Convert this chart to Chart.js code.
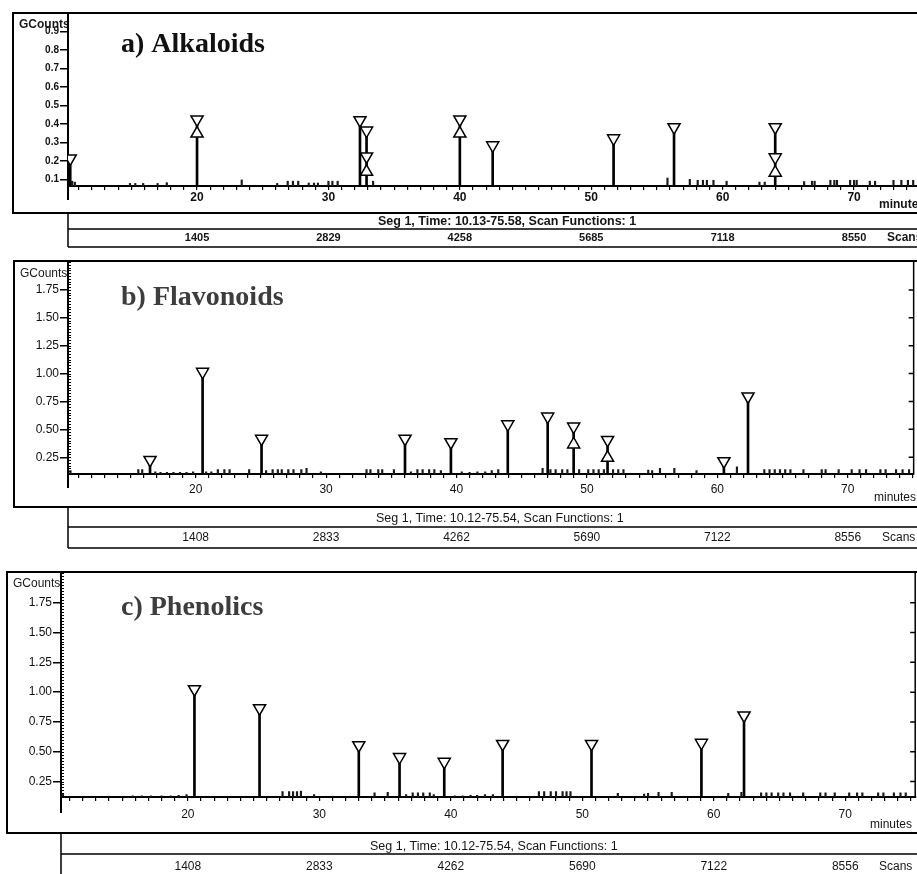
<!DOCTYPE html>
<html>
<head>
<meta charset="utf-8">
<title>GC-MS chromatograms</title>
<script src="https://cdn.jsdelivr.net/npm/chart.js@4.4.1/dist/chart.umd.min.js"></script>
<style>
  html, body { margin: 0; padding: 0; background: #fff; }
  body { width: 917px; height: 874px; position: relative; overflow: hidden; }
  .panel { position: absolute; left: 0; width: 917px; }
  .panel canvas { display: block; }
</style>
</head>
<body>
<div class="panel" style="top:0;height:250px"><canvas id="chartA"></canvas></div>
<div class="panel" style="top:250px;height:310px"><canvas id="chartB"></canvas></div>
<div class="panel" style="top:560px;height:314px"><canvas id="chartC"></canvas></div>
<script>
/* ---------- shared tick labels ---------- */
const MINUTE_LABELS = [20, 30, 40, 50, 60, 70];

/* ---------- a) Alkaloids ---------- */
const alkBase = 0.064;
const alkPeakMin = [10.35, 20.0, 32.4, 32.9, 40.0, 42.5, 51.7, 56.3, 64.0];
const alkPeakTop = [0.213, 0.424, 0.42, 0.364, 0.424, 0.284, 0.322, 0.382, 0.382];
const alkLowDownMin = [32.9, 64.0];
const alkLowDownVal = [0.224, 0.219];
const alkUpMin = [20.0, 32.9, 40.0, 64.0];
const alkUpVal = [0.348, 0.141, 0.348, 0.136];
const alkNoiseMin = [10.5, 10.7, 14.9, 15.3, 15.9, 17.0, 17.7, 23.4, 26.1, 26.9,
  27.3, 27.7, 28.5, 28.9, 29.2, 30.0, 30.3, 30.7, 33.4,
  55.8, 57.5, 58.1, 58.5, 58.8, 59.3, 60.3, 62.8, 63.2, 66.2, 66.8,
  67.0, 68.2, 68.5, 68.7, 69.7, 70.0, 70.2, 71.2, 71.6, 73.0, 73.6, 74.1, 74.5];
const alkNoiseTop = [0.09, 0.085, 0.078, 0.078, 0.078, 0.078, 0.082, 0.097, 0.078, 0.09,
  0.09, 0.09, 0.08, 0.08, 0.08, 0.09, 0.09, 0.09, 0.09,
  0.107, 0.1, 0.095, 0.095, 0.095, 0.095, 0.09, 0.085, 0.085, 0.088, 0.09,
  0.09, 0.095, 0.095, 0.095, 0.095, 0.095, 0.095, 0.09, 0.09, 0.095, 0.095, 0.095, 0.095];
const alkYTicks = [0.1, 0.2, 0.3, 0.4, 0.5, 0.6, 0.7, 0.8, 0.9];
const alkScans = ['1405', '2829', '4258', '5685', '7118', '8550'];

/* ---------- b) Flavonoids ---------- */
const flavBase = 0.1;
const flavPeakMin = [16.5, 20.53, 25.05, 36.05, 39.57, 43.93, 46.99, 48.98, 51.58, 60.5, 62.35];
const flavPeakTop = [0.226, 1.016, 0.416, 0.416, 0.385, 0.545, 0.615, 0.525, 0.405, 0.215, 0.795];
const flavLowDownMin = [];
const flavLowDownVal = [];
const flavUpMin = [48.98, 51.58];
const flavUpVal = [0.365, 0.245];
const flavNoiseMin = [10.4, 15.6, 15.9, 16.9, 17.3, 17.8, 18.3, 18.8, 19.3, 19.8,
  20.8, 21.2, 21.7, 22.2, 22.6, 24.1, 25.4, 25.9, 26.3, 26.6,
  27.1, 27.5, 28.1, 28.5, 29.6, 33.1, 33.4, 34.0, 34.3, 35.2,
  36.5, 37.0, 37.4, 37.9, 38.3, 38.8, 40.4, 41.0, 41.6, 42.2,
  42.7, 43.2, 46.6, 47.2, 47.6, 48.1, 48.5, 49.4, 50.1, 50.5,
  50.9, 51.3, 52.0, 52.4, 52.8, 54.7, 55.0, 55.6, 56.7, 58.4,
  61.5, 63.6, 64.0, 64.4, 64.8, 65.2, 65.6, 66.6, 68.0, 68.3,
  69.3, 70.3, 70.9, 71.4, 72.5, 72.9, 73.7, 74.2, 74.7];
const flavNoiseTop = [0.13, 0.14, 0.14, 0.12, 0.115, 0.115, 0.115, 0.115, 0.115, 0.12,
  0.12, 0.12, 0.14, 0.14, 0.14, 0.14, 0.13, 0.14, 0.14, 0.14,
  0.14, 0.14, 0.14, 0.15, 0.12, 0.14, 0.14, 0.14, 0.14, 0.14,
  0.12, 0.14, 0.14, 0.14, 0.14, 0.13, 0.12, 0.115, 0.12, 0.12,
  0.13, 0.14, 0.15, 0.14, 0.14, 0.14, 0.14, 0.14, 0.14, 0.14,
  0.14, 0.14, 0.14, 0.14, 0.14, 0.135, 0.13, 0.15, 0.15, 0.13,
  0.165, 0.14, 0.14, 0.14, 0.14, 0.14, 0.14, 0.14, 0.14, 0.14,
  0.14, 0.14, 0.14, 0.14, 0.14, 0.14, 0.14, 0.14, 0.14];
const flavYTicks = [0.25, 0.5, 0.75, 1.0, 1.25, 1.5, 1.75];
const flavScans = ['1408', '2833', '4262', '5690', '7122', '8556'];

/* ---------- c) Phenolics ---------- */
const phenBase = 0.12;
const phenPeakMin = [20.5, 25.45, 33.0, 36.1, 39.5, 43.94, 50.7, 59.06, 62.3];
const phenPeakTop = [1.025, 0.865, 0.555, 0.455, 0.415, 0.565, 0.565, 0.575, 0.805];
const phenLowDownMin = [];
const phenLowDownVal = [];
const phenUpMin = [];
const phenUpVal = [];
const phenNoiseMin = [10.5, 15.8, 16.5, 17.2, 18.0, 18.7, 19.3, 19.9, 27.2, 27.7,
  28.0, 28.3, 28.6, 29.6, 34.2, 35.2, 36.6, 37.1, 37.5, 37.9,
  38.4, 38.7, 40.3, 40.9, 41.5, 42.0, 42.6, 43.2, 46.7, 47.1,
  47.6, 48.0, 48.5, 48.8, 49.1, 52.7, 54.7, 55.0, 55.8, 56.8,
  61.1, 62.1, 63.6, 64.0, 64.4, 64.9, 65.3, 65.8, 66.8, 68.1,
  68.5, 69.2, 70.3, 70.9, 71.3, 72.5, 72.9, 73.7, 74.2, 74.6];
const phenNoiseTop = [0.15, 0.13, 0.13, 0.13, 0.13, 0.13, 0.135, 0.14, 0.165, 0.165,
  0.165, 0.165, 0.17, 0.14, 0.155, 0.16, 0.14, 0.155, 0.155, 0.155,
  0.155, 0.14, 0.13, 0.13, 0.135, 0.135, 0.14, 0.14, 0.165, 0.165,
  0.165, 0.165, 0.165, 0.165, 0.165, 0.15, 0.145, 0.15, 0.16, 0.16,
  0.15, 0.16, 0.155, 0.155, 0.155, 0.155, 0.155, 0.155, 0.155, 0.155,
  0.155, 0.155, 0.155, 0.155, 0.155, 0.155, 0.155, 0.155, 0.155, 0.155];
const phenYTicks = [0.25, 0.5, 0.75, 1.0, 1.25, 1.5, 1.75];
const phenScans = ['1408', '2833', '4262', '5690', '7122', '8556'];

/* ---------- helpers ---------- */
const SANS = '"Liberation Sans", Arial, sans-serif';
const SERIF = '"Liberation Serif", "Times New Roman", serif';

function stickPoints(times, tops, base) {
  return times.map((t, i) => ({ x: t, y: [base, tops[i]] }));
}
function markPoints(times, vals) {
  return times.map((t, i) => ({ x: t, y: vals[i] }));
}
function minuteTicks(lo, hi) {
  const out = [];
  for (let m = Math.ceil(lo); m <= Math.floor(hi); m++) out.push(m);
  return out;
}

function makeDecor(d, g) {
  return {
    id: 'decor',
    beforeDraw(chart) {
      // "GCounts" sits under the y axis line and gets cut by it
      const c = chart.ctx, area = chart.chartArea;
      c.save();
      c.beginPath();
      c.rect(0, 0, area.left + 1, area.top + 30);
      c.clip();
      c.fillStyle = '#1a1a1a';
      c.font = (g.bold ? 'bold ' : '') + '12px ' + SANS;
      c.textBaseline = 'middle';
      c.fillText('GCounts', g.gcX, g.gcY);
      c.restore();
    },
    afterDraw(chart) {
      const c = chart.ctx, area = chart.chartArea;
      const xs = chart.scales.x, ys = chart.scales.y;
      const W = chart.width;
      c.save();
      c.strokeStyle = '#000';

      // outer frame (open on the right, cropped)
      c.lineWidth = 2;
      c.beginPath();
      c.moveTo(W, g.frameTop); c.lineTo(g.frameLeft, g.frameTop);
      c.lineTo(g.frameLeft, g.frameBottom); c.lineTo(W, g.frameBottom);
      c.stroke();

      // y axis runs a bit below the baseline
      c.beginPath();
      c.moveTo(area.left, area.bottom); c.lineTo(area.left, area.bottom + g.stub);
      c.stroke();

      // minor y ticks and right axis (b, c)
      if (g.minorStep) {
        c.lineWidth = 1;
        c.beginPath();
        const k0 = Math.ceil(ys.min / g.minorStep), k1 = Math.floor(ys.max / g.minorStep);
        for (let k = k0; k <= k1; k++) {
          const py = Math.round(ys.getPixelForValue(k * g.minorStep)) + 0.5;
          c.moveTo(area.left - 1, py); c.lineTo(area.left + 3, py);
        }
        c.stroke();
        c.lineWidth = 1.5;
        c.beginPath();
        c.moveTo(area.right, area.top); c.lineTo(area.right, area.bottom);
        d.yTicks.forEach(v => {
          const py = ys.getPixelForValue(v);
          c.moveTo(area.right - 5, py); c.lineTo(area.right, py);
        });
        c.stroke();
      }

      // Seg / Scan strip
      c.lineWidth = 1.5;
      c.beginPath();
      c.moveTo(area.left, g.frameBottom); c.lineTo(area.left, g.stripBottom);
      g.stripLines.forEach(yy => { c.moveTo(area.left, yy); c.lineTo(W, yy); });
      c.stroke();

      // title
      c.fillStyle = g.titleColor;
      c.font = 'bold 28px ' + SERIF;
      c.textBaseline = 'alphabetic';
      c.textAlign = 'left';
      c.fillText(d.title, 121, g.titleY);

      // small texts
      const wt = g.bold ? 'bold ' : '';
      c.fillStyle = '#151515';
      c.textBaseline = 'middle';
      c.font = wt + '12.5px ' + SANS;
      c.fillText(d.seg, g.segX, g.segY);
      c.font = wt + '12px ' + SANS;
      c.fillText('minutes', g.minutesX, g.minutesY);
      c.fillText('Scans', g.scansX, g.scanY);
      c.textAlign = 'center';
      c.font = wt + (g.bold ? '11px ' : '12px ') + SANS;
      MINUTE_LABELS.forEach((m, i) => {
        c.fillText(d.scans[i], xs.getPixelForValue(m), g.scanY);
      });
      c.restore();
    }
  };
}

function makeChart(canvasId, d, g) {
  const wt = g.bold ? 'bold' : 'normal';
  const marker = {
    pointStyle: 'triangle', pointRadius: 7, pointHoverRadius: 7,
    pointBackgroundColor: '#fff', pointBorderColor: '#000', pointBorderWidth: 1.5,
    showLine: false, order: 1
  };
  return new Chart(document.getElementById(canvasId), {
    type: 'scatter',
    data: {
      datasets: [
        { type: 'bar', data: stickPoints(d.noiseMin, d.noiseTop, d.base),
          backgroundColor: '#1a1a1a', barThickness: 1.5, grouped: false, order: 3 },
        { type: 'bar', data: stickPoints(d.peakMin, d.peakTop, d.base),
          backgroundColor: '#000', barThickness: 2, grouped: false, order: 2 },
        Object.assign({ data: markPoints(d.peakMin.concat(d.lowDownMin), d.peakTop.concat(d.lowDownVal)),
          pointRotation: 180 }, marker),
        Object.assign({ data: markPoints(d.upMin, d.upVal), pointRotation: 0 }, marker)
      ]
    },
    options: {
      responsive: true,
      maintainAspectRatio: false,
      animation: false,
      events: [],
      layout: { autoPadding: false, padding: { left: 0, top: g.top, right: g.padRight, bottom: 0 } },
      plugins: { legend: { display: false }, tooltip: { enabled: false } },
      scales: {
        x: {
          type: 'linear', min: g.xMin, max: g.xMax, offset: false,
          grid: { offset: false, drawOnChartArea: false, drawTicks: true, tickLength: 4, color: '#000', lineWidth: 1.2 },
          border: { color: '#000', width: 2 },
          afterBuildTicks: s => { s.ticks = minuteTicks(g.xMin, g.xMax).map(v => ({ value: v })); },
          afterFit: s => { s.height = g.h - g.bottom; },
          ticks: {
            autoSkip: false, maxRotation: 0, minRotation: 0, padding: g.xPad, color: '#111',
            font: { family: SANS, size: 12, weight: wt },
            callback: v => MINUTE_LABELS.includes(v) ? String(v) : ''
          }
        },
        y: {
          type: 'linear', min: d.base, max: g.yMax, beginAtZero: false,
          grid: { drawOnChartArea: false, drawTicks: true, tickLength: 8, color: '#000', lineWidth: 1.5 },
          border: { color: '#000', width: 2 },
          afterBuildTicks: s => { s.ticks = d.yTicks.map(v => ({ value: v })); },
          afterFit: s => { s.width = g.left; },
          ticks: {
            padding: 1, color: '#111',
            font: { family: SANS, size: g.yFont, weight: wt },
            callback: v => v.toFixed(g.yDigits)
          }
        }
      }
    },
    plugins: [makeDecor(d, g)]
  });
}

makeChart('chartA', {
  title: 'a) Alkaloids', seg: 'Seg 1, Time: 10.13-75.58, Scan Functions: 1',
  base: alkBase, peakMin: alkPeakMin, peakTop: alkPeakTop,
  lowDownMin: alkLowDownMin, lowDownVal: alkLowDownVal, upMin: alkUpMin, upVal: alkUpVal,
  noiseMin: alkNoiseMin, noiseTop: alkNoiseTop, yTicks: alkYTicks, scans: alkScans
}, {
  h: 250, top: 13, bottom: 186, left: 68, padRight: 0, xMin: 10.18, xMax: 74.79, yMax: 1.0,
  xPad: 0, yDigits: 1, yFont: 10, bold: true, titleColor: '#111', minorStep: 0,
  frameLeft: 13, frameTop: 13, frameBottom: 213, stripLines: [229, 247], stripBottom: 247, stub: 14,
  gcX: 19, gcY: 25, titleY: 52, segX: 378, segY: 222, scanY: 238,
  minutesX: 879, minutesY: 205, scansX: 887
});

makeChart('chartB', {
  title: 'b) Flavonoids', seg: 'Seg 1, Time: 10.12-75.54, Scan Functions: 1',
  base: flavBase, peakMin: flavPeakMin, peakTop: flavPeakTop,
  lowDownMin: flavLowDownMin, lowDownVal: flavLowDownVal, upMin: flavUpMin, upVal: flavUpVal,
  noiseMin: flavNoiseMin, noiseTop: flavNoiseTop, yTicks: flavYTicks, scans: flavScans
}, {
  h: 310, top: 12, bottom: 224, left: 68, padRight: 1, xMin: 10.21, xMax: 75.05, yMax: 2.0,
  xPad: 4, yDigits: 2, yFont: 12, bold: false, titleColor: '#3d3d3d', minorStep: 0.025,
  frameLeft: 14, frameTop: 11, frameBottom: 257, stripLines: [277, 298], stripBottom: 298, stub: 14,
  gcX: 20, gcY: 24, titleY: 55, segX: 376, segY: 269, scanY: 288,
  minutesX: 874, minutesY: 248, scansX: 882
});

makeChart('chartC', {
  title: 'c) Phenolics', seg: 'Seg 1, Time: 10.12-75.54, Scan Functions: 1',
  base: phenBase, peakMin: phenPeakMin, peakTop: phenPeakTop,
  lowDownMin: phenLowDownMin, lowDownVal: phenLowDownVal, upMin: phenUpMin, upVal: phenUpVal,
  noiseMin: phenNoiseMin, noiseTop: phenNoiseTop, yTicks: phenYTicks, scans: phenScans
}, {
  h: 314, top: 13, bottom: 237, left: 61, padRight: 1, xMin: 10.35, xMax: 75.32, yMax: 2.0,
  xPad: 6, yDigits: 2, yFont: 12, bold: false, titleColor: '#3d3d3d', minorStep: 0.025,
  frameLeft: 7, frameTop: 12, frameBottom: 273, stripLines: [294], stripBottom: 314, stub: 16,
  gcX: 13, gcY: 24, titleY: 55, segX: 370, segY: 287, scanY: 307,
  minutesX: 870, minutesY: 265, scansX: 879
});
</script>
</body>
</html>
